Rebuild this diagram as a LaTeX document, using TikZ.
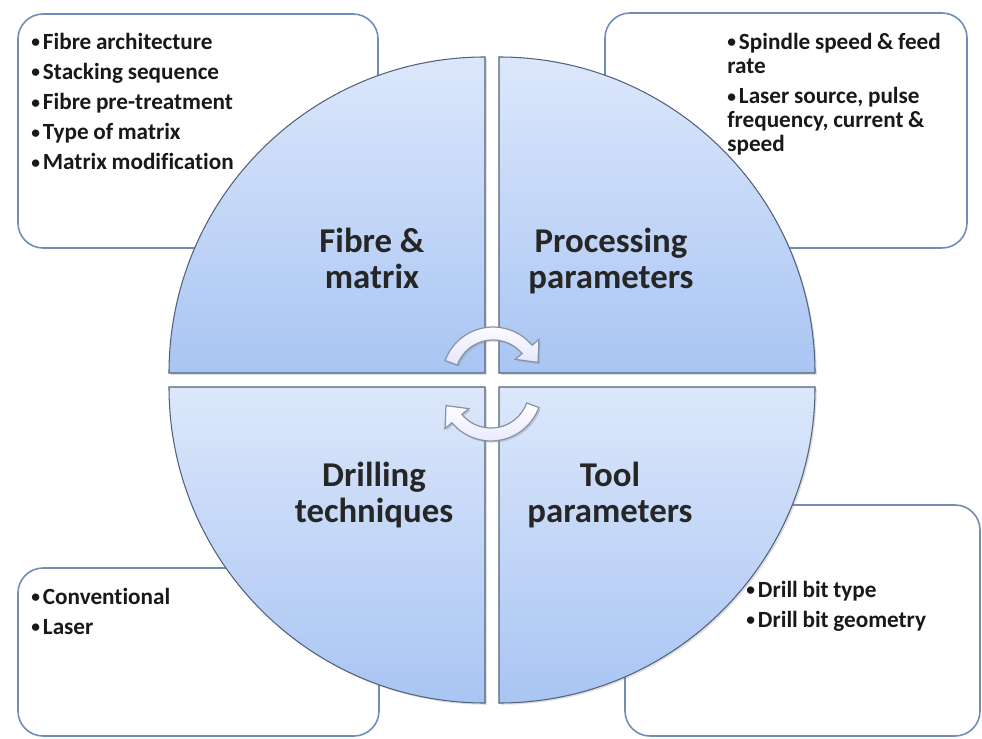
\documentclass[tikz,border=0pt]{standalone}
\usepackage{fontspec}
\setmainfont{Carlito}[Ligatures=NoCommon]
\usetikzlibrary{positioning,calc,shadows}
\definecolor{boxline}{HTML}{6F8DB5}
\definecolor{quadline}{HTML}{52627A}
\definecolor{quadtop}{HTML}{DCE7FB}
\definecolor{quadbot}{HTML}{A9C5F3}
\definecolor{arrowline}{HTML}{8894A6}
\newcommand{\pitem}[1]{\par\hangindent=0.5em\hangafter=1\noindent\makebox[0.5em][l]{\raisebox{0.1ex}{\scalebox{0.75}{\textbullet}}}#1}
\begin{document}
\begin{tikzpicture}[x=0.02cm,y=0.02cm,
    listbox/.style={draw=boxline,line width=0.9pt,fill=white,rounded corners=0.5cm},
    quad/.style={draw=quadline,line width=0.6pt,top color=quadtop,bottom color=quadbot,
      drop shadow={opacity=0.25,shadow xshift=1pt,shadow yshift=-1pt}},
    cycarrow/.style={draw=arrowline,line width=0.7pt,top color=white,bottom color=blue!10,
      drop shadow={opacity=0.3,shadow xshift=1pt,shadow yshift=-1pt}},
    head/.style={font=\fontsize{19.8}{20}\selectfont\bfseries,align=center,text=black!85},
    items/.style={font=\fontsize{13.2}{13.7}\selectfont\bfseries,text width=6cm,align=left,
      inner sep=0pt,anchor=base west,text=black!90,
      execute at begin node={\setlength{\parskip}{3.4pt}\spaceskip=0.2em plus 0.1em}}]
  \useasboundingbox (0,0) rectangle (982,738);
  % boxes behind the circle
  \draw[listbox] (18,490) rectangle (378,724);
  \draw[listbox] (605,490) rectangle (967,725);
  \draw[listbox] (18,2) rectangle (379,170);
  \draw[listbox] (625,2) rectangle (980,233);
  % four quarters of the circle
  \path[quad] (485,365) -- (169,365) arc[start angle=180,end angle=90,radius=316] -- cycle;
  \path[quad] (499,365) -- (499,681) arc[start angle=90,end angle=0,radius=316] -- cycle;
  \path[quad] (485,351) -- (485,35) arc[start angle=270,end angle=180,radius=316] -- cycle;
  \path[quad] (499,351) -- (815,351) arc[start angle=0,end angle=-90,radius=316] -- cycle;
  % cycle arrows in the middle
  \begin{scope}[shift={(493,360)}]
    \path[cycarrow] (160:51) arc[start angle=160,end angle=40,radius=51] -- (40:60)
      -- ($(40:44.5)+(-50:17)$) -- (40:29) -- (40:38) arc[start angle=40,end angle=160,radius=38] -- cycle;
  \end{scope}
  \begin{scope}[shift={(491,348)},rotate=180]
    \path[cycarrow] (160:51) arc[start angle=160,end angle=40,radius=51] -- (40:60)
      -- ($(40:44.5)+(-50:17)$) -- (40:29) -- (40:38) arc[start angle=40,end angle=160,radius=38] -- cycle;
  \end{scope}
  % quarter titles
  \node[head,anchor=base] (fibre) at (372,450) {Fibre \&\\matrix};
  \node[head,anchor=base] (process) at (611,450) {Processing\\parameters};
  \node[head,anchor=base] (drill) at (374,216) {Drilling\\techniques};
  \node[head,anchor=base] (tool) at (610,216) {Tool\\parameters};
  % lists
  \node[items] (fibrelist) at (31,719) {\pitem{Fibre architecture}\pitem{Stacking sequence}%
    \pitem{Fibre pre-treatment}\pitem{Type of matrix}\pitem{Matrix modification}};
  \node[items] (processlist) at (727,719) {\pitem{Spindle speed \& feed\\rate}%
    \pitem{Laser source, pulse\\frequency, current \&\\speed}};
  \node[items] (drilllist) at (31,164) {\pitem{Conventional}\pitem{Laser}};
  \node[items] (toollist) at (746,171) {\pitem{Drill bit type}\pitem{Drill bit geometry}};
\end{tikzpicture}
\end{document}
